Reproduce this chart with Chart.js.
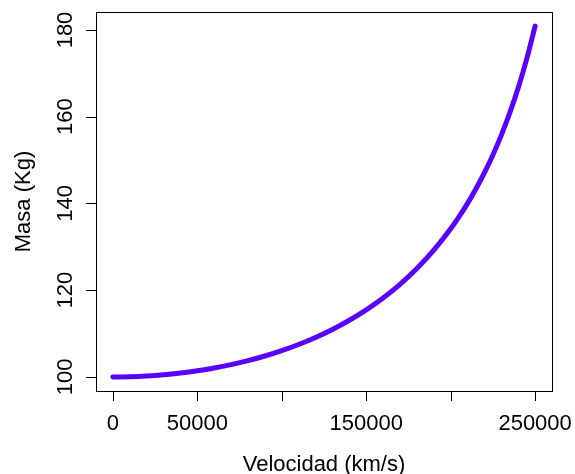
<!DOCTYPE html>
<html><head><meta charset="utf-8">
<script src="https://cdn.jsdelivr.net/npm/chart.js@4.4.1/dist/chart.umd.min.js"></script>
<style>html,body{margin:0;padding:0;background:#fff;}canvas{display:block;}</style>
</head><body>
<canvas id="c" width="575" height="474"></canvas>
<script>
// Velocidad (km/s)
const velocidad = [0,10000,20000,30000,40000,50000,60000,70000,80000,90000,100000,110000,120000,130000,140000,150000,160000,170000,180000,190000,200000,205000,210000,215000,220000,225000,230000,235000,240000,245000,250000];
// Masa (Kg)
const masa = [100,100.06,100.22,100.50,100.90,101.42,102.06,102.84,103.76,104.83,106.07,107.49,109.11,110.96,113.07,115.47,118.22,121.37,125.00,129.22,134.16,136.97,140.03,143.39,147.09,151.19,155.75,160.87,166.67,173.28,180.91];
const xTicks = [0,50000,100000,150000,200000,250000];
const xTickLabels = ["0","50000","","150000","","250000"];
const yTicks = [100,120,140,160,180];
const yTickLabels = ["100","120","140","160","180"];
const xTitle = "Velocidad (km/s)";
const yTitle = "Masa (Kg)";

const FONT = '22px "Liberation Sans", Arial, Helvetica, sans-serif';

const rAxes = {
  id: 'rAxes',
  afterDraw(chart) {
    const ctx = chart.ctx, a = chart.chartArea;
    const xs = chart.scales.x, ys = chart.scales.y;
    ctx.save();
    ctx.strokeStyle = '#000'; ctx.lineWidth = 1;
    // box
    ctx.strokeRect(Math.round(a.left)+0.5, Math.round(a.top)+0.5, Math.round(a.right-a.left), Math.round(a.bottom-a.top));
    // x ticks
    ctx.beginPath();
    xTicks.forEach(v => {
      const px = Math.round(xs.getPixelForValue(v))+0.5;
      ctx.moveTo(px, Math.round(a.bottom)); ctx.lineTo(px, Math.round(a.bottom)+10);
    });
    yTicks.forEach(v => {
      const py = Math.round(ys.getPixelForValue(v))+0.5;
      ctx.moveTo(Math.round(a.left), py); ctx.lineTo(Math.round(a.left)-10, py);
    });
    ctx.stroke();
    ctx.fillStyle = '#000';
    ctx.font = FONT;
    ctx.textAlign = 'center'; ctx.textBaseline = 'alphabetic';
    xTicks.forEach((v,i) => {
      if (!xTickLabels[i]) return;
      ctx.fillText(xTickLabels[i], xs.getPixelForValue(v), a.bottom + 39);
    });
    yTicks.forEach((v,i) => {
      ctx.save();
      ctx.translate(a.left - 24, ys.getPixelForValue(v));
      ctx.rotate(-Math.PI/2);
      ctx.fillText(yTickLabels[i], 0, 0);
      ctx.restore();
    });
    ctx.fillText(xTitle, (a.left + a.right)/2, a.bottom + 80);
    ctx.save();
    ctx.translate(a.left - 66, (a.top + a.bottom)/2);
    ctx.rotate(-Math.PI/2);
    ctx.fillText(yTitle, 0, 0);
    ctx.restore();
    ctx.restore();
  }
};

new Chart(document.getElementById('c'), {
  type: 'line',
  data: {
    datasets: [{
      data: velocidad.map((v,i) => ({x: v, y: masa[i]})),
      borderColor: '#5A00FF',
      borderWidth: 5,
      pointRadius: 0,
      fill: false,
      cubicInterpolationMode: 'monotone',
      borderCapStyle: 'round',
      borderJoinStyle: 'round'
    }]
  },
  options: {
    responsive: false,
    animation: false,
    devicePixelRatio: 1,
    layout: { padding: { left: 96, top: 12, right: 23, bottom: 83 } },
    plugins: { legend: { display: false }, tooltip: { enabled: false } },
    scales: {
      x: { type: 'linear', display: false, min: -10000, max: 260000 },
      y: { type: 'linear', display: false, min: 96.76, max: 184.15 }
    }
  },
  plugins: [rAxes]
});
</script>
</body></html>
